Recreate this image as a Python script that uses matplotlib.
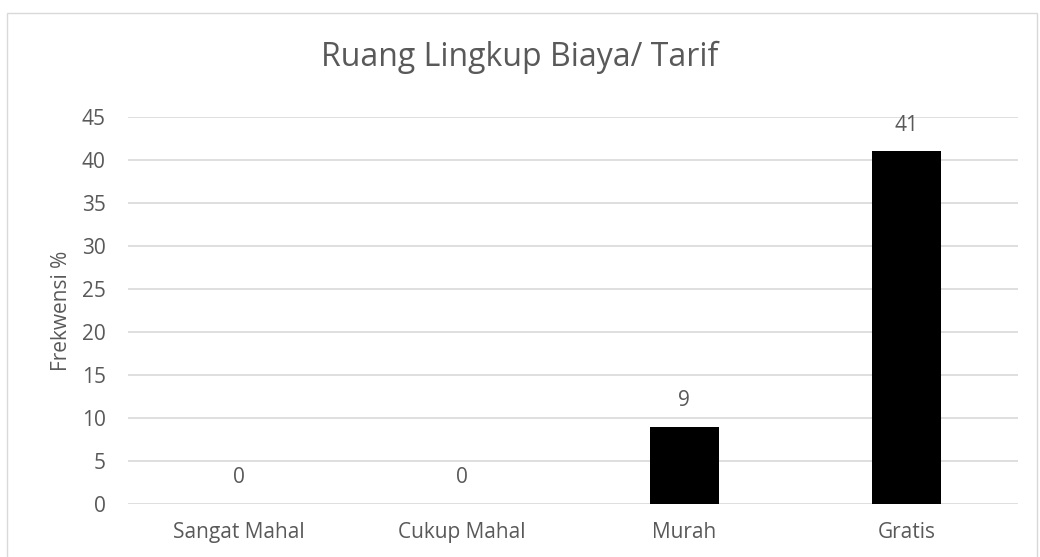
import matplotlib.pyplot as plt
from matplotlib.patches import Rectangle

categories = ["Sangat Mahal", "Cukup Mahal", "Murah", "Gratis"]
values = [0, 0, 9, 41]
y_ticks = [0, 5, 10, 15, 20, 25, 30, 35, 40, 45]

plt.rcParams['font.family'] = ['Open Sans', 'DejaVu Sans']
text_color = '#595959'
grid_color = '#d9d9d9'

fig = plt.figure(figsize=(10.4, 5.57), dpi=100)
ax = fig.add_axes([128 / 1040, 53 / 557, 890 / 1040, 387 / 557])

x = range(len(categories))
ax.bar(x, values, width=0.31, color='black', zorder=3)
for xi, v in zip(x, values):
    ax.annotate(str(v), (xi, v), xytext=(0, 19), textcoords='offset points',
                ha='center', va='center', fontsize=15, color=text_color)

ax.set_xlim(-0.5, len(categories) - 0.5)
ax.set_ylim(0, 45)
ax.set_yticks(y_ticks)
ax.set_xticks(list(x))
ax.set_xticklabels(categories)
ax.tick_params(axis='both', length=0, labelsize=15, colors=text_color)
ax.tick_params(axis='x', pad=13)
ax.tick_params(axis='y', pad=16)
ax.grid(axis='y', color=grid_color, linewidth=1.2, zorder=0)
for s in ax.spines.values():
    s.set_visible(False)

ax.set_ylabel("Frekwensi %", fontsize=15, color=text_color, labelpad=7)
fig.text(0.5, 1 - 57 / 557, "Ruang Lingkup Biaya/ Tarif", ha='center', va='center',
         fontsize=23, color=text_color)

# chart border
fig.patches.append(Rectangle((7 / 1040, -0.1), 1030 / 1040, 1.1 - 13 / 557,
                             transform=fig.transFigure, fill=False,
                             edgecolor=grid_color, linewidth=1))

fig.savefig("out.png", dpi=100)
